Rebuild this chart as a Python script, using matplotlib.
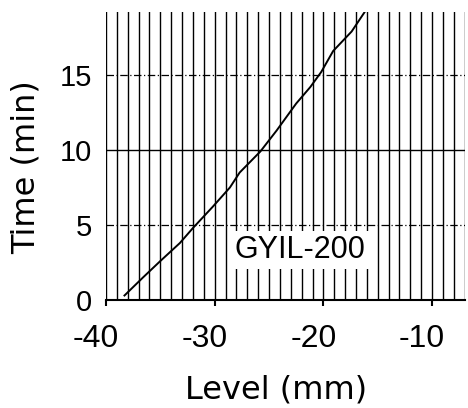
import matplotlib
matplotlib.use('Agg')
import matplotlib.pyplot as plt
import matplotlib.transforms as mtransforms
import numpy as np

# data
level = [-38.3, -36.6, -35.0, -33.2, -32.0, -30.2, -28.6, -27.7, -25.8, -24.3,
         -22.5, -21.2, -20.2, -19.1, -17.4, -16.2]
time = [0.3, 1.5, 2.6, 3.8, 4.8, 6.2, 7.5, 8.5, 9.9, 11.3,
        13.1, 14.2, 15.2, 16.6, 17.9, 19.2]
xticks = [-40, -30, -20, -10]
xtick_labels = ['-40', '-30', '-20', '-10']
yticks = [0, 5, 10, 15]
ytick_labels = ['0', '5', '10', '15']
dashed_levels = [5, 15]
solid_levels = [10]
sample_name = 'GYIL-200'

plt.rcParams['axes.unicode_minus'] = False
sans = ['Liberation Sans', 'DejaVu Sans']

fig = plt.figure(figsize=(4.68, 4.08), dpi=100)
ax = fig.add_axes([106 / 468, 1 - 300 / 408, 359 / 468, 288 / 408])

ax.set_xlim(-40, -6.97)
ax.set_ylim(0, 19.2)

# dense vertical grid, one line per mm
ax.set_xticks(xticks)
ax.set_xticks(np.arange(-40, -6, 1), minor=True)
ax.grid(axis='x', which='both', color='black', linewidth=1.0)
for v in dashed_levels:
    ax.axhline(v, color='black', linewidth=0.9, linestyle=(0, (6, 2, 1, 2)))
for v in solid_levels:
    ax.axhline(v, color='black', linewidth=1.0)

ax.plot(level, time, color='black', linewidth=1.4, zorder=3)

ax.text(-22.15, 3.33, sample_name, ha='center', va='center', fontsize=22,
        family=sans, zorder=4,
        bbox=dict(facecolor='white', edgecolor='none', pad=3))

for s in ['top', 'right', 'left']:
    ax.spines[s].set_visible(False)
ax.spines['bottom'].set_linewidth(1.5)

ax.set_xticklabels(xtick_labels, family=sans, fontsize=23)
ax.set_yticks(yticks)
ax.set_yticklabels(ytick_labels, family=sans, fontsize=21)
ax.tick_params(axis='x', which='major', direction='out', length=4, width=1.5, pad=13)
ax.tick_params(axis='x', which='minor', length=0)
ax.tick_params(axis='y', length=0, pad=10)

offset = mtransforms.ScaledTranslation(-10 / 100, 0, fig.dpi_scale_trans)
for lab in ax.get_xticklabels():
    lab.set_transform(lab.get_transform() + offset)

ax.set_xlabel('Level (mm)', fontsize=23)
ax.xaxis.set_label_coords(0.473, -0.26)
ax.set_ylabel('Time (min)', fontsize=23)
ax.yaxis.set_label_coords(-0.178, 0.46)

fig.savefig('out.png', dpi=100)
